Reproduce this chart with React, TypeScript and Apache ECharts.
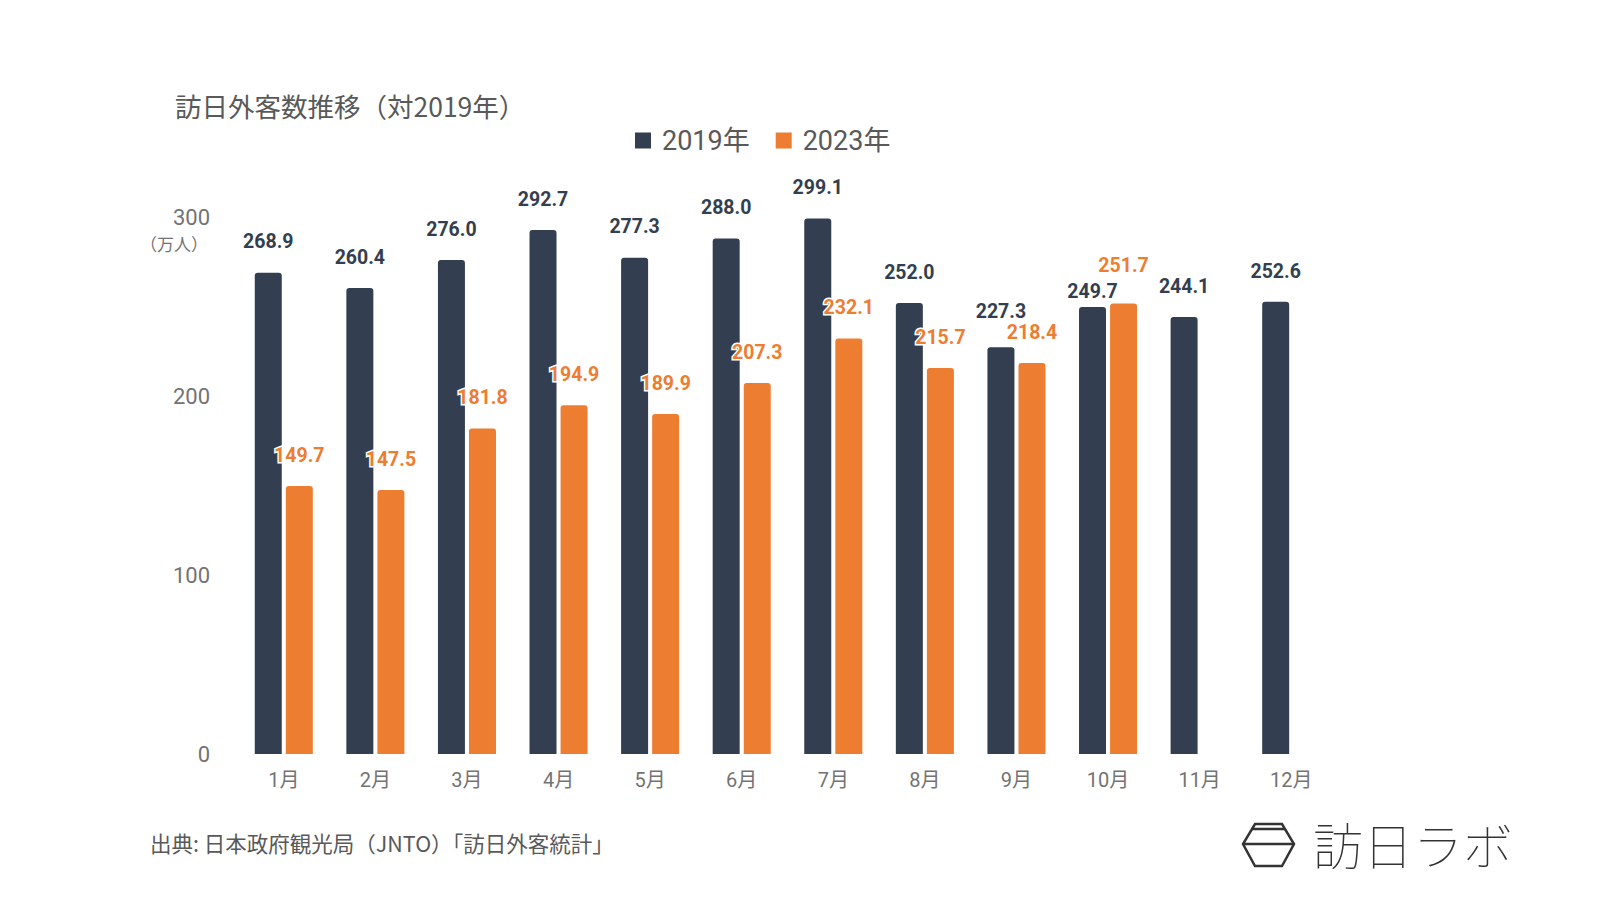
import React, { useEffect, useRef } from "react";
import * as echarts from "echarts";

const months = ["1月", "2月", "3月", "4月", "5月", "6月", "7月", "8月", "9月", "10月", "11月", "12月"];
const values2019 = [268.9, 260.4, 276.0, 292.7, 277.3, 288.0, 299.1, 252.0, 227.3, 249.7, 244.1, 252.6];
const values2023: (number | null)[] = [149.7, 147.5, 181.8, 194.9, 189.9, 207.3, 232.1, 215.7, 218.4, 251.7, null, null];
const seriesNames = ["2019年", "2023年"];
const yTicks = { min: 0, max: 300, interval: 100 };

const DARK = "#333f50";
const ORANGE = "#ed7d31";
const GRAY = "#595959";
const AXISGRAY = "#737373";
const FONT = "Roboto, 'Noto Sans CJK JP', sans-serif";
const CJK = "'Noto Sans CJK JP', Roboto, sans-serif";

export default function App() {
  const ref = useRef<HTMLDivElement>(null);
  useEffect(() => {
    if (!ref.current) return;
    const chart = echarts.init(ref.current, null, { renderer: "svg" });
    const labelBase = {
      show: true,
      position: "top" as const,
      distance: 21,
      fontSize: 19.5,
      fontWeight: "bold" as const,
      fontFamily: FONT,
      formatter: (p: any) => (p.value == null ? "" : Number(p.value).toFixed(1)),
    };
    const data2019 = values2019.map((v, i) =>
      i === 9 ? { value: v, label: { distance: 6 } } : i === 8 ? { value: v, label: { distance: 26 } } : v
    );
    const data2023 = values2023.map((v, i) =>
      i === 9 ? { value: v, label: { distance: 28 } } : v
    );
    chart.setOption({
      animation: false,
      backgroundColor: "#ffffff",
      legend: {
        data: seriesNames,
        left: 630,
        top: 122,
        icon: "rect",
        itemWidth: 16,
        itemHeight: 16,
        itemGap: 26,
        textStyle: { color: GRAY, fontSize: 27, fontFamily: FONT, padding: [0, 0, 0, 6] },
      },
      grid: { left: 238, right: 263, top: 217, bottom: 146, containLabel: false },
      xAxis: {
        type: "category",
        data: months,
        axisLine: { show: false },
        axisTick: { show: false },
        axisLabel: { color: AXISGRAY, fontSize: 20, fontFamily: FONT, margin: 16 },
      },
      yAxis: {
        type: "value",
        min: yTicks.min,
        max: yTicks.max,
        interval: yTicks.interval,
        splitLine: { show: false },
        axisLine: { show: false },
        axisTick: { show: false },
        axisLabel: { color: AXISGRAY, fontSize: 22, fontFamily: FONT, margin: 28 },
      },
      series: [
        {
          name: seriesNames[0],
          type: "bar",
          data: data2019,
          barWidth: 27,
          barGap: "15%",
          itemStyle: { color: DARK, borderRadius: [3, 3, 0, 0] },
          label: { ...labelBase, color: DARK },
        },
        {
          name: seriesNames[1],
          type: "bar",
          data: data2023,
          barWidth: 27,
          itemStyle: { color: ORANGE, borderRadius: [3, 3, 0, 0] },
          label: { ...labelBase, color: ORANGE, textBorderColor: "#ffffff", textBorderWidth: 3 },
        },
      ],
      graphic: [
        {
          type: "text",
          left: 175,
          top: 92,
          style: { text: "訪日外客数推移（対2019年）", fill: GRAY, font: `26.5px ${CJK}` },
        },
        {
          type: "text",
          right: 1600 - 208,
          top: 235,
          style: { text: "（万人）", fill: AXISGRAY, font: `17px ${CJK}` },
        },
        {
          type: "text",
          left: 150,
          top: 832,
          style: { text: "出典: 日本政府観光局（JNTO）「訪日外客統計」", fill: GRAY, font: `21.5px ${CJK}` },
        },
        {
          type: "polygon",
          shape: {
            points: [
              [1255, 824],
              [1282, 824],
              [1294, 844],
              [1282, 866],
              [1255, 866],
              [1243, 844],
            ],
          },
          style: { fill: "none", stroke: "#333", lineWidth: 2.5 },
        },
        {
          type: "line",
          shape: { x1: 1252, y1: 829, x2: 1285, y2: 829 },
          style: { stroke: "#333", lineWidth: 2.5 },
        },
        {
          type: "line",
          shape: { x1: 1243, y1: 844, x2: 1294, y2: 844 },
          style: { stroke: "#333", lineWidth: 2.5 },
        },
        {
          type: "text",
          left: 1313,
          top: 818,
          style: { text: "訪日ラボ", fill: "#333", font: `100 50px ${CJK}` },
        },
      ],
    });
    return () => chart.dispose();
  }, []);
  return <div ref={ref} style={{ position: "fixed", left: 0, top: 0, width: 1600, height: 900 }} />;
}
